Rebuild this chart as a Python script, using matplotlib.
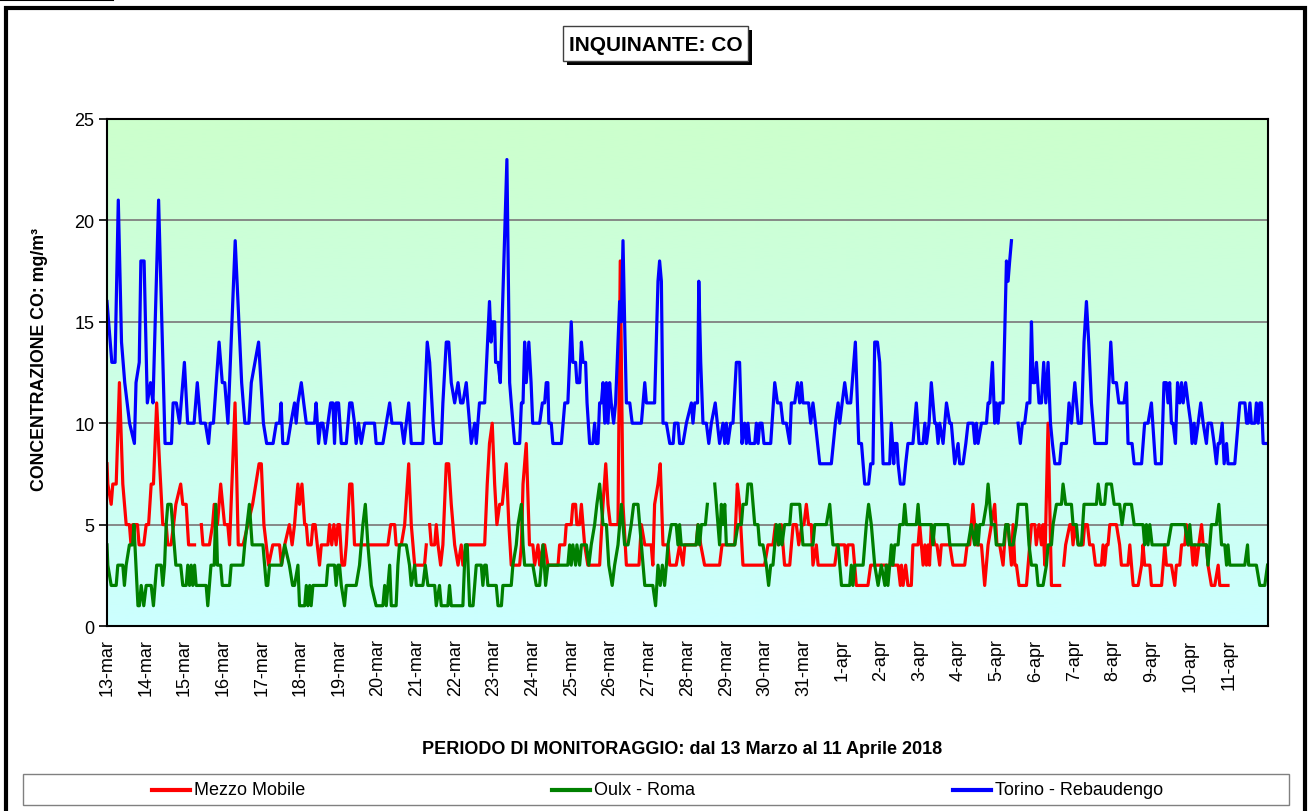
import numpy as np
import matplotlib
matplotlib.use("Agg")
import matplotlib.pyplot as plt
from matplotlib.patches import Rectangle
from matplotlib.lines import Line2D
from matplotlib.colors import LinearSegmentedColormap

plt.rcParams['font.family'] = ['Liberation Sans', 'DejaVu Sans']

# ---------------- data (hours from 13-mar 00:00, CO mg/m3; None = no data) -------------
day_labels = ["13-mar", "14-mar", "15-mar", "16-mar", "17-mar", "18-mar", "19-mar", "20-mar",
              "21-mar", "22-mar", "23-mar", "24-mar", "25-mar", "26-mar", "27-mar", "28-mar",
              "29-mar", "30-mar", "31-mar", "1-apr", "2-apr", "3-apr", "4-apr", "5-apr",
              "6-apr", "7-apr", "8-apr", "9-apr", "10-apr", "11-apr"]

series_names = ["Mezzo Mobile", "Oulx - Roma", "Torino - Rebaudengo"]

torino_h = [0, 3, 5, 7, 9, 11, 14, 17, 18, 20, 21, 23, 25, 27, 28.5, 32, 34, 36, 40, 41, 43, 45, 48, 50,
            54, 56, 58, 61, 63, 64, 66, 69.5, 71.5, 73, 75, 79.5, 83.5, 85.5, 88, 89.5, 94, 97, 99, 103,
            105, 107, 108, 109, 112, 114,
            116.3, 117.3, 118.4, 120.5, 122, 123.6, 128.7, 129.7, 131.2, 132.5, 133.9, 135.4, 137, 138.7,
            140.1, 141.1, 142.1, 143.6, 145.3, 148.4, 150.5, 151.9, 153.5, 154.5, 156, 157.7, 159.8, 165.9,
            166.9, 171.1, 173.2, 175.3, 176.7, 182.5, 184.1, 185.6, 187.1, 188.7, 195.9, 198.6, 200.1,
            202.2, 203.2, 207.3, 208.3, 210.4, 211.9, 213.5, 215.6, 217.7, 219.3, 220.7, 222.8, 223.8,
            225.9, 228, 229, 231, 234.2, 237.2, 238.2, 239.2,
            240.4, 241, 242.5, 243.9, 246.5, 248, 249.7, 250.7, 252.8, 255.9, 257, 258, 259, 260, 261.6,
            263, 264, 268.3, 270, 271.4, 272.4, 273.4, 274, 275.5, 276.5, 281.8, 283.9, 285.8, 287.9,
            288.9, 290.6, 291.4, 293.1, 294.2, 295.2, 296.8, 297.7, 299.3, 301.3, 302.4, 303.4, 304.5,
            305.5, 306.6, 307.6, 308.7, 309.7, 310.7, 311.7, 312.7, 314.2, 315.4, 317.9, 319, 320, 321,
            322.1, 324.2, 325.7, 331.4, 333.5, 334.5, 339.6, 341.7, 342.7, 343.8, 344.8, 346.9, 349,
            351.1, 352, 354.1, 355.1, 357.2, 359.3,
            362.4, 363.4, 364.5, 366.2, 367, 368.2, 369.6, 371.7, 373.2, 374.8, 377.2, 378.5, 379.9, 382,
            383.1, 384.1, 385.1, 386.8, 388.2, 390.3, 392.3, 393.8, 395.4, 396.5, 397.5, 398.6, 401.7,
            402.7, 403.8, 404.8, 406.2, 407.4, 411.6, 414.1, 415.8, 417.8, 419.2, 421.3, 423.4, 424.4,
            426.5, 428.2, 429.6, 430.6, 431.6, 435.1, 436.4, 437.8, 439.3, 442, 449.2, 451.7, 453.4,
            454.4, 455.9, 457.5, 459.1, 461.2, 464.1, 466.2, 467.9, 469.9, 472.3, 473.6, 475, 476.1,
            477.8, 479.2, 481.3,
            485.4, 486.4, 487.9, 488.5, 489.9, 490.6, 492, 494.1, 495.3, 496.7, 499.8, 501.9, 503.6,
            506.1, 507.2, 508.2, 509.8, 511.2, 513.3, 514.3, 515.4, 516.4, 518.5, 520.6, 522.6, 523.6,
            525.7, 527.8, 528.8, 530.9, 532.6, 534, 537.1, 538.2, 539.2, 540.2, 542.3, 545.4, 546.4,
            547.5, 549.1, 550.5, 551.5, 552.6, 553.6, 555.7, 557.8, 558.8, 559.8, 560.9, 563,
            565, 566.4, 567.7, 569.1, 570.6, 572.3, 573.3, 574.3, 575.4, 576.4, 578, 579.5, 580.9, 582.2,
            583.6, 585.1, 586.3, 587.8, 590.8, 591.9, 595, 596.6, 598.1, 599.1, 600.2,
            602.3, 604.3, 605.9, 607.4, 608.8, 610.5, 612.6, 619.8, 620.8, 622.5, 623.9, 626, 627.5,
            630.7, 632.2, 633.2, 635.7, 637, 641.6, 643.5, 645.6, 647.7, 649.4, 650.2, 653.9, 655.5, 657,
            658, 659, 660.1, 661.1, 662.6, 663.9, 665.3, 666.4, 667.4, 668.9, 670.4, 672.1, 672.9, 674.2,
            675, 676.7, 678.3, 679.8, 681.8, 682.8, 684.9, 686.6, 688, 689.1, 690.1, 691.6, 692.8, 694.3,
            695.2, 699.4, 702.5, 705.7, 706.7, 707.7, 708.8, 709.7, 711.8, 712.8, 713.9, 714.9, 716, 717,
            719.7]
torino_v = [16, 13, 13, 21, 14, 12, 10, 9, 12, 13, 18, 18, 11, 12, 11, 21, 15, 9, 9, 11, 11, 10, 13, 10,
            10, 12, 10, 10, 9, 10, 10, 14, 12, 12, 10, 19, 12, 10, 10, 12, 14, 10, 9, 9,
            10, 10, 11, 9, 9, 10,
            11, 10, 11, 12, 11, 10, 10, 11, 9, 10, 10, 9, 10, 11,
            11, 9, 11, 11, 9, 9, 11, 11, 10, 9, 10, 9, 10, 10,
            9, 9, 10, 11, 10, 10, 9, 10, 11, 9, 9, 14, 13,
            10, 9, 9, 11, 14, 14, 12, 11, 12, 11, 11, 12, 11,
            9, 10, 9, 11, 11, 16, 14, 15,
            15, 13, 13, 12, 19, 23, 12, 11, 9, 9, 11, 11, 14, 12, 14,
            12, 10, 10, 11, 11, 12, 12, 10, 10, 9, 9, 11, 11, 15,
            13, 13, 12, 12, 14, 13, 13, 11, 9, 9, 10, 9, 9,
            11, 11, 12, 10, 12, 10, 12, 11, 10, 11, 16, 15, 19, 15,
            11, 11, 10, 10, 12, 11, 11, 17, 18, 17, 10, 10, 9,
            9, 10, 10, 9, 9, 10,
            11, 10, 11, 11, 17, 13, 10, 10, 9, 10, 11, 10, 9, 10,
            9, 10, 9, 10, 10, 13, 13, 9, 10, 9, 10, 9, 9,
            10, 9, 10, 10, 9, 9, 12, 11, 11, 10, 10, 9, 11,
            11, 12, 11, 12, 11, 11, 10, 11, 10, 8, 8, 10, 11,
            10, 11, 12, 11, 11, 14, 9, 9, 7, 7, 8, 8, 14,
            14, 13, 8,
            8, 10, 8, 9, 9, 8, 7, 7, 8, 9, 9, 11, 9,
            9, 10, 9, 10, 12, 10, 10, 9, 10, 9, 11, 10, 10,
            8, 9, 8, 8, 9, 10, 10, 9, 10, 9, 10, 10, 11,
            11, 13, 10, 11, 10, 11, 11, 18, 17, 18, 19, None,
            10, 9, 10, 10, 11, 11, 15, 12, 12, 13, 11, 11, 13, 11,
            13, 10, 9, 8, 8, 9, 9, 11, 10, 11, 12,
            10, 10, 14, 16, 14, 11, 9, 9, 11, 14, 12, 12, 11,
            11, 12, 9, 9, 8, 8, 10, 10, 11, 9, 8, 8, 12, 12,
            11, 12, 10, 10, 9, 12, 11, 12, 11, 12, 11, 10, 9, 10,
            9, 10, 11, 10, 9, 10, 10, 9, 8, 9, 9, 10, 8, 9,
            8, 8, 11, 11, 10, 10, 11, 10, 10, 11, 10, 11, 11, 9,
            9]

mezzo_h = [0, 0.5, 2.6, 3.6, 5.7, 7.7, 9.8, 11.9, 13.9, 14.9, 15.9, 18.9, 19.9, 22.8, 24.3, 25.8, 27.4,
           28.8, 30.8, 32.6, 34.6, 36.7, 37.7, 39.7, 41.3, 42.7, 45.7, 47, 49.1, 50.6, 54.3, 56.5,
           58.5, 59.5, 63.5, 65.5, 66.5, 68.5, 70.5, 72.9, 74.9, 76, 79.4, 81.4, 84.4, 90.3, 94.3, 95.7,
           97.3, 100.2, 102.8, 107, 108.2, 110.2, 113.1, 114.8,
           116.3, 117.3, 118.4, 119.4, 120.9, 122.6, 123.6, 124.6, 126.6, 127.7, 129.1, 130.4, 131.8,
           132.9, 137, 138, 139.4, 140.7, 142.1, 143.2, 144.2, 145.7, 147.3, 148.4, 150.5, 151.9, 153.5,
           157.7, 174.2, 175.9, 178.4, 179.3, 182.5, 184.6, 187.1, 188.7, 190.8, 196.9, 198, 199,
           200.1, 201.1, 203.2, 204.2, 205.3, 206.9, 208.3, 210.4, 211.9, 213.5, 215.6, 217.7, 219.7,
           220.7, 222.8, 234.2, 235.8, 237.2,
           238.9, 240.4, 241.8, 243.5, 245.1, 247.6, 249.2, 250.7, 255.9, 257, 258, 260, 262, 264.1,
           265.2, 267.3, 268.3, 270.4, 271.4, 273.4, 279.7, 280.7, 283.9, 284.8, 287.9, 288.9, 290.6,
           291.4, 293.1, 294.2, 296.2, 298.2, 305.5, 307.6, 309.3, 310.7, 312.1, 316.9, 318.3, 320,
           322.1, 329.9, 331.4, 333.5, 337.5, 338.5, 339.6, 341.7, 343.1, 344.8, 347.9, 349, 353, 355.1,
           357.2, 358.3,
           365.4, 366.5, 368.2, 370.6, 372.7, 379.9, 381.4, 389.3, 390.9, 392.3, 394.4, 407.8, 409.9,
           413, 414.5, 416.2, 418.2, 420.2, 423.4, 425.5, 427.5, 429, 431, 432.2, 433.7, 435.1, 436.8,
           437.8, 439.9, 441, 451.3, 453, 457.5, 458.5, 459.5, 462.6, 464.7, 471.9, 473.6, 476.1, 479.2,
           482.4,
           490.6, 492, 492.7, 493.7, 495.3, 496.7, 498.8, 499.8, 503, 504, 506.1, 507.2, 508.2, 509.2,
           510.1, 511.2, 513.3, 514.7, 516.4, 517.4, 522.7, 524.6, 531.9, 533.4, 535, 537, 539.1, 542.3,
           544.3, 546.4, 548.5, 550.5, 551.9, 553.6, 555.7, 557.4, 558.8, 560.9, 561.9, 563, 564,
           565.6, 570.2, 573.3, 575.4, 576.3, 578, 579.5, 580.5, 581.6, 583.6, 585.7, 590.8, 592,
           593.3, 594.5, 597.1, 598.1, 599.1, 600.2, 602.3,
           605.3, 606.3, 608, 609.4, 611.5, 613, 616.7, 617.7, 618.7, 619.8, 620.8, 621.9, 626, 628,
           629.1, 633.2, 634.3, 636.4, 639.5, 641.6, 642.5, 643.5, 646.7, 647.7, 654, 655, 656, 657,
           660.1, 662.2, 663.2, 665.3, 666.4, 668.4, 669.4, 670.4, 672.5, 673.5, 674.6, 675.6, 677.1,
           678.8, 679.8, 681.8, 682.8, 684.9, 687, 689.1, 690.1, 695.2]
mezzo_v = [8, 7, 6, 7, 7, 12, 7, 5, 5, 4, 5, 5, 4, 4, 5, 5, 7,
           7, 11, 8, 5, 5, 4, 4, 5, 6, 7, 6, 6, 4, 4, None,
           5, 4, 4, 5, 6, 5, 7, 5, 5, 4, 11, 4, 4, 6, 8, 8,
           5, 3, 4, 4, 3, 4, 5, 4,
           5, 6, 7, 6, 7, 5, 5, 4, 4, 5, 5, 4, 3,
           4, 4, 5, 4, 5, 4, 5, 5, 3, 3, 4, 7, 7, 4,
           4, 4, 5, 5, 4, 4, 5, 8, 5, 3, 3, 4, None,
           5, 4, 4, 5, 4, 3, 4, 8, 8, 6, 4, 3, 4,
           3, 4, 4, 7, 9,
           10, 7, 5, 6, 6, 8, 5, 3, 3, 4, 7, 9, 4, 4,
           3, 4, 3, 4, 4, 3, 3, 4, 4, 5, 5, 6, 6,
           5, 5, 6, 4, 3, 3, 6, 8, 6, 5, 5, 18, 6,
           3, 3, 5, 4, 4, 3, 6, 7, 8, 4, 4, 3, 3, 4,
           3, 4,
           4, 5, 4, 3, 3, 3, 4, 4, 7, 6, 3, 3, 4,
           4, 5, 4, 5, 3, 3, 5, 5, 4, 5, 5, 6, 5, 5,
           3, 4, 3, 3, 4, 4, 3, 4, 4, 2, 2, 3, 3, 3,
           3,
           3, 2, 3, 2, 3, 2, 2, 4, 4, 5, 3, 4, 3, 4,
           3, 5, 4, 4, 3, 4, 4, 3, 3, 4, 4, 6, 4, 4,
           2, 4, 5, 6, 4, 4, 3, 5, 5, 3, 5, 3, 3,
           2, 2, 5, 5, 4, 5, 4, 5, 3, 10, 2, 2, None,
           3, 4, 5, 5, 4, 5, 4,
           4, 5, 5, 4, 4, 3, 3, 4, 3, 4, 4, 5, 5, 4,
           3, 3, 4, 2, 2, 3, 4, 3, 3, 2, 2, 3, 4, 3,
           3, 2, 3, 3, 4, 4, 5, 4, 4, 3, 4, 3, 4,
           5, 4, 4, 3, 2, 2, 3, 2, 2]

oulx_h = [0, 0.5, 2.6, 5.7, 6.7, 9.8, 10.8, 11.9, 13.9, 15.9, 16.7, 19.2, 20.1, 21.2, 22.8, 24.3, 27.4,
          28.8, 30.8, 33.6, 34.6, 35.7, 36.7, 37.7, 39.7, 40.7, 42.7, 45.7, 47, 49.1, 50.1, 51.2, 52.2,
          53.2, 54.3, 55.3, 61.5, 62.5, 64.5, 66.5, 67.5, 68.5, 70.5, 71.5, 76, 77, 84.3, 85.4, 88.3,
          90, 96.7, 98.8, 99.7, 100.8, 108.2, 110.2, 113.1, 115.1,
          116.3, 118.4, 119.4, 122.6, 123.6, 124.6, 125.7, 126.6, 127.7, 136, 137, 141.1, 142.1, 143.2,
          144.2, 145.3, 147.3, 148.4, 154.5, 156.6, 158.7, 160.2, 161.8, 163.9, 166.9, 171.1, 172.2,
          173.2, 175.3, 176.3, 179.3, 180.4, 181.4, 185.6, 187.6, 188.7, 190.8, 191.8, 195.9, 197.4,
          199, 203.2, 204.2, 206.2, 207.3, 211.4, 212.4, 213.5, 220.7, 222.2, 223.4, 224.9, 227, 229,
          232.1, 233.1, 234.2, 235.2, 236.2,
          241.4, 242.5, 244.6, 245.5, 250.7, 251.7, 253.8, 254.9, 257, 258, 259, 264.1, 266.2, 268.3,
          270.4, 272, 273.4, 285.8, 286.9, 287.9, 288.9, 290.6, 291.4, 293.1, 294.2, 297.3, 298.8,
          300.3, 302.4, 303.8, 305.5, 307.6, 309.7, 311.2, 313.3, 314.8, 316.9, 319, 321, 323.1, 325.1,
          326.6, 329.3, 331.4, 333.5, 338.5, 340.2, 341.7, 343.1, 344.4, 345.8, 346.9, 347.9, 350, 353,
          354.1, 355.1, 356.1, 361.3,
          365.4, 366.5, 367.5, 368.6, 371.1, 372.3, 374.5, 376.9, 379.9, 381, 382, 383.1, 384.1, 389.3,
          391.3, 393.4, 394.4, 396.5, 397.5, 399.6, 401.7, 403.7, 404.7, 406.8, 408.9, 410.3, 411.6,
          413, 414.1, 415.1, 416.6, 417.1, 418.6, 420.2, 423.4, 424.4, 429.6, 431.6, 437.8, 438.9,
          446.1, 448.2, 450.2, 453.4, 455.5, 460.6, 461.6, 462.6, 463.7, 468.9, 470.9, 472.3, 474,
          476.1, 478.2, 480.2, 482.4,
          483.3, 484.3, 485.4, 486.4, 487.4, 488.5, 490.6, 491.6, 493.7, 494.7, 495.8, 501.9, 503, 504,
          511.2, 512.2, 513.3, 521.6, 522.7, 534, 536, 538.1, 539.1, 540.2, 541.2, 543.3, 545.4, 546.4,
          547.5, 548.5, 550.5, 551.5, 556.1, 557.4, 558.8, 559.8, 561.9, 563.9, 565, 570.2, 571.8,
          573.3, 576.3, 577.4, 580.5, 582.6, 583.6, 585.7, 586.7, 588.8, 591.9, 592.9, 594.5, 598.1,
          599.1, 601.2, 602.3,
          604.3, 605.9, 613.6, 614.7, 616.3, 618.7, 619.8, 622.9, 624.6, 628, 629.5, 631.2, 635.3, 637,
          642.5, 643.5, 644.6, 645.6, 646.7, 648.1, 658, 660.1, 668.4, 670.4, 671.5, 672.5, 681.8,
          682.8, 683.9, 684.9, 688, 689.5, 691.2, 693.2, 694.3, 695.2, 696.3, 705.6, 707.3, 708, 712.8,
          714.9, 718, 719.7]
oulx_v = [4, 3, 2, 2, 3, 3, 2, 3, 4, 4, 5, 1, 1, 2, 1, 2, 2,
          1, 3, 3, 2, 3, 5, 6, 6, 5, 3, 3, 2, 2, 3, 2, 3,
          2, 3, 2, 2, 1, 3, 3, 6, 3, 3, 2, 2, 3, 3, 4, 6,
          4, 4, 2, 2, 3, 3, 4, 3, 2,
          2, 3, 1, 1, 2, 1, 2, 1, 2, 2, 3, 3, 2, 3,
          3, 2, 1, 2, 2, 3, 5, 6, 4, 2, 1, 1, 2,
          1, 3, 1, 1, 3, 4, 4, 3, 2, 3, 2, 2, 3,
          2, 2, 1, 2, 1, 1, 2, 1, 1, 4, 4, 1, 1, 3,
          3, 2, 3, 3, 2,
          2, 1, 1, 2, 2, 3, 4, 5, 6, 4, 3, 3, 2, 2,
          4, 2, 3, 3, 4, 3, 4, 3, 4, 3, 4, 4, 3,
          4, 5, 6, 7, 5, 5, 3, 2, 3, 4, 6, 4, 4, 5,
          6, 6, 4, 2, 2, 1, 3, 2, 3, 2, 3, 4, 5, 5,
          4, 5, 4, 4,
          4, 5, 4, 5, 5, 6, None, 7, 4, 6, 5, 6, 4, 4,
          5, 5, 6, 6, 7, 7, 5, 5, 4, 4, 3, 2, 3,
          3, 4, 5, 4, 5, 4, 5, 5, 6, 6, 4, 4, 5,
          5, 6, 4, 4, 2, 2, 3, 2, 3, 3, 5, 6, 5,
          3, 2, 3, 2,
          3, 2, 3, 4, 3, 4, 4, 5, 5, 6, 5, 5, 6, 5,
          5, 4, 5, 5, 4, 4, 5, 4, 5, 4, 5, 5, 6, 7,
          6, 5, 5, 4, 4, 5, 5, 4, 4, 5, 6, 6, 4,
          3, 3, 2, 2, 3, 4, 4, 5, 6, 6, 7, 6, 6,
          5, 5, 4,
          4, 6, 6, 7, 6, 6, 7, 7, 6, 6, 5, 6, 6, 5,
          5, 4, 5, 4, 5, 4, 4, 5, 5, 4, 5, 4, 4,
          3, 4, 5, 5, 6, 4, 4, 3, 4, 3, 3, 4, 3, 3,
          2, 2, 3]

colors = ["#FF0000", "#008000", "#0000FF"]

# ---------------- figure ----------------
W, H = 1309, 812
fig = plt.figure(figsize=(W / 100, H / 100), dpi=100)
fig.patch.set_facecolor("white")

def fx(px):
    return px / W

def fy(py):
    return 1 - py / H

ax_left, ax_right, ax_top, ax_bottom = 107, 1268, 120, 627
ax = fig.add_axes([fx(ax_left), fy(ax_bottom), fx(ax_right - ax_left), (ax_bottom - ax_top) / H])

n_hours = 24 * len(day_labels)
ax.set_xlim(0, n_hours)
ax.set_ylim(0, 25)

# gradient background
cmap = LinearSegmentedColormap.from_list("bg", ["#CCFFFF", "#CCFFCC"])
grad = np.linspace(0, 1, 256).reshape(-1, 1)
ax.imshow(grad, cmap=cmap, origin="lower", aspect="auto",
          extent=[0, n_hours, 0, 25], zorder=0, interpolation="bilinear")

for yv in [5, 10, 15, 20]:
    ax.axhline(yv, color="#808080", lw=1.3, zorder=1)

for hrs, vals, c in [(mezzo_h, mezzo_v, colors[0]),
                     (oulx_h, oulx_v, colors[1]),
                     (torino_h, torino_v, colors[2])]:
    ax.plot(np.array(hrs, dtype=float), np.array(vals, dtype=float), color=c, lw=2.3,
            solid_joinstyle="round", zorder=3)

ax.set_yticks([0, 5, 10, 15, 20, 25])
ax.set_yticklabels(["0", "5", "10", "15", "20", "25"], fontsize=13)
ax.set_xticks(np.arange(len(day_labels)) * 24)
ax.set_xticklabels(day_labels, rotation=90, fontsize=13, va="top", ha="center")
ax.tick_params(axis="y", direction="out", length=6, width=1.2, pad=3, color="black")
ax.tick_params(axis="x", length=0, pad=9)
for s in ax.spines.values():
    s.set_color("black")
    s.set_linewidth(1.5)
    s.set_zorder(5)

# axis titles
fig.text(fx(40), fy(360), "CONCENTRAZIONE CO: mg/m³", rotation=90, ha="center", va="center",
         fontsize=12.8, fontweight="bold")
fig.text(fx(682), fy(750), "PERIODO DI MONITORAGGIO: dal 13 Marzo al 11 Aprile 2018",
         ha="center", va="center", fontsize=13, fontweight="bold")

# title box with shadow
tb_x0, tb_x1, tb_y0, tb_y1 = 563, 748, 27, 62
fig.add_artist(Rectangle((fx(tb_x0 + 4), fy(tb_y1 + 4)), fx(tb_x1 - tb_x0), (tb_y1 - tb_y0) / H,
                         transform=fig.transFigure, facecolor="black", edgecolor="black", lw=0))
fig.add_artist(Rectangle((fx(tb_x0), fy(tb_y1)), fx(tb_x1 - tb_x0), (tb_y1 - tb_y0) / H,
                         transform=fig.transFigure, facecolor="white", edgecolor="#404040", lw=1))
fig.text(fx((tb_x0 + tb_x1) / 2), fy((tb_y0 + tb_y1) / 2 + 1), "INQUINANTE: CO", ha="center",
         va="center", fontsize=15, fontweight="bold")

# legend box
lg_x0, lg_x1, lg_y0, lg_y1 = 23, 1289, 775, 806
fig.add_artist(Rectangle((fx(lg_x0), fy(lg_y1)), fx(lg_x1 - lg_x0), (lg_y1 - lg_y0) / H,
                         transform=fig.transFigure, facecolor="white", edgecolor="#808080", lw=1))
legend_x = [152, 552, 953]
for lx, name, c in zip(legend_x, series_names, colors):
    fig.add_artist(Line2D([fx(lx), fx(lx + 38)], [fy(791), fy(791)], transform=fig.transFigure,
                          color=c, lw=3))
    fig.text(fx(lx + 42), fy(791), name, ha="left", va="center", fontsize=13)

# outer frame
fig.add_artist(Rectangle((fx(5.5), fy(830)), fx(1304.5 - 5.5), (830 - 9) / H,
                         transform=fig.transFigure, facecolor="none", edgecolor="black", lw=3))
fig.add_artist(Line2D([0, fx(113)], [fy(1), fy(1)], transform=fig.transFigure, color="black", lw=1.5))

fig.savefig("out.png", dpi=100)
